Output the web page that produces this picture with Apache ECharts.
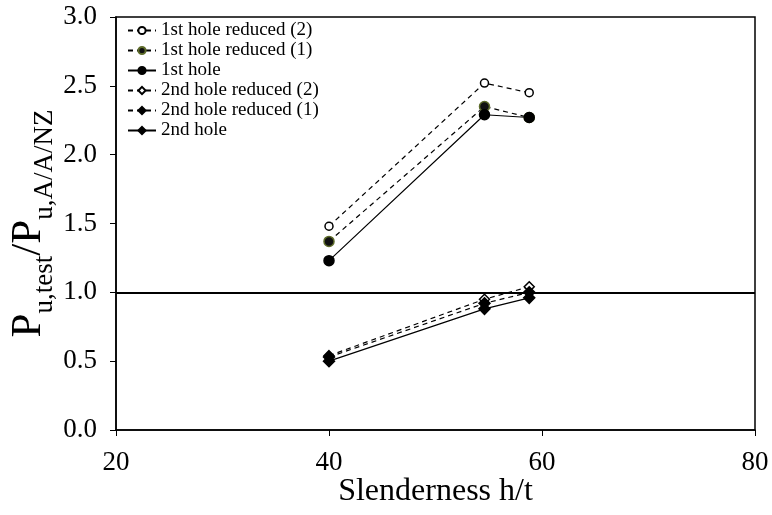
<!DOCTYPE html>
<html><head><meta charset="utf-8">
<script src="https://cdn.jsdelivr.net/npm/echarts@6/dist/echarts.min.js"></script>
<style>html,body{margin:0;padding:0;background:#fff}#c{width:772px;height:515px}</style>
</head><body><div id="c"></div>
<script>
const slenderness = [40.0, 54.6, 58.8];
const hole1Red2 = [1.48, 2.52, 2.45];
const hole1Red1 = [1.37, 2.35, 2.27];
const hole1 = [1.23, 2.29, 2.27];
const hole2Red2 = [0.54, 0.95, 1.04];
const hole2Red1 = [0.53, 0.92, 1.00];
const hole2 = [0.50, 0.88, 0.96];
const xTicks = [20, 40, 60, 80];
const yTicks = [0.0, 0.5, 1.0, 1.5, 2.0, 2.5, 3.0];
const refLine = 1.0;

const F = 'Liberation Serif, Times New Roman, serif';
const pts = v => slenderness.map((x, i) => [x, v[i]]);
function s(name, data, symbol, fill, border, dashed, size) {
  return {
    name, type: 'line', data: pts(data), symbol, symbolSize: size,
    itemStyle: { color: fill, borderColor: border, borderWidth: 1.5 },
    lineStyle: { color: '#000', width: 1.2, type: dashed ? [5, 4] : 'solid' },
    emphasis: { disabled: true }, z: 3
  };
}
const series = [
  s('1st hole reduced (2)', hole1Red2, 'circle', '#fff', '#000', true, 8),
  s('1st hole reduced (1)', hole1Red1, 'circle', '#111', '#5d6b2a', true, 10),
  s('1st hole', hole1, 'circle', '#000', '#000', false, 10),
  s('2nd hole reduced (2)', hole2Red2, 'diamond', '#fff', '#000', true, 10),
  s('2nd hole reduced (1)', hole2Red1, 'diamond', '#000', '#000', true, 11),
  s('2nd hole', hole2, 'diamond', '#000', '#000', false, 11)
];
series[5].markLine = {
  silent: true, symbol: 'none', label: { show: false },
  lineStyle: { color: '#000', width: 2, type: 'solid' },
  data: [{ yAxis: refLine }]
};
const chart = echarts.init(document.getElementById('c'), null, { renderer: 'canvas' });
chart.setOption({
  animation: false,
  textStyle: { fontFamily: F },
  grid: { left: 116, right: 17, top: 17, bottom: 85, containLabel: false, outerBoundsMode: 'none', show: true, borderColor: '#000', borderWidth: 1.5 },
  legend: {
    orient: 'vertical', left: 122, top: 16, itemWidth: 28, itemHeight: 9, itemGap: 1,
    textStyle: { fontFamily: F, fontSize: 19, color: '#000' },
    data: series.map(x => x.name), selectedMode: false
  },
  xAxis: {
    type: 'value', min: xTicks[0], max: xTicks[xTicks.length - 1], interval: 20,
    name: 'Slenderness h/t', nameLocation: 'middle', nameGap: 46, nameMoveOverlap: false,
    nameTextStyle: { fontFamily: F, fontSize: 32, color: '#000' },
    axisLine: { lineStyle: { color: '#000', width: 1.5 } },
    axisTick: { inside: false, length: 6, lineStyle: { color: '#000' } },
    axisLabel: { fontFamily: F, fontSize: 27, color: '#000', margin: 19 },
    splitLine: { show: false }
  },
  yAxis: {
    type: 'value', min: yTicks[0], max: yTicks[yTicks.length - 1], interval: 0.5,
    name: '{a|P}{b|u,test}{a|/P}{b|u,A/A/NZ}', nameLocation: 'middle', nameGap: 66, nameMoveOverlap: false,
    nameTextStyle: {
      fontFamily: F, color: '#000',
      rich: {
        a: { fontFamily: F, fontSize: 43, color: '#000', lineHeight: 48, verticalAlign: 'bottom' },
        b: { fontFamily: F, fontSize: 27, color: '#000', lineHeight: 48, verticalAlign: 'bottom', padding: [0, 0, -8, 0] }
      }
    },
    axisLine: { lineStyle: { color: '#000', width: 1.5 } },
    axisTick: { inside: false, length: 6, lineStyle: { color: '#000' } },
    axisLabel: { fontFamily: F, fontSize: 27, color: '#000', margin: 19, formatter: v => v.toFixed(1) },
    splitLine: { show: false }
  },
  series
});
</script></body></html>
